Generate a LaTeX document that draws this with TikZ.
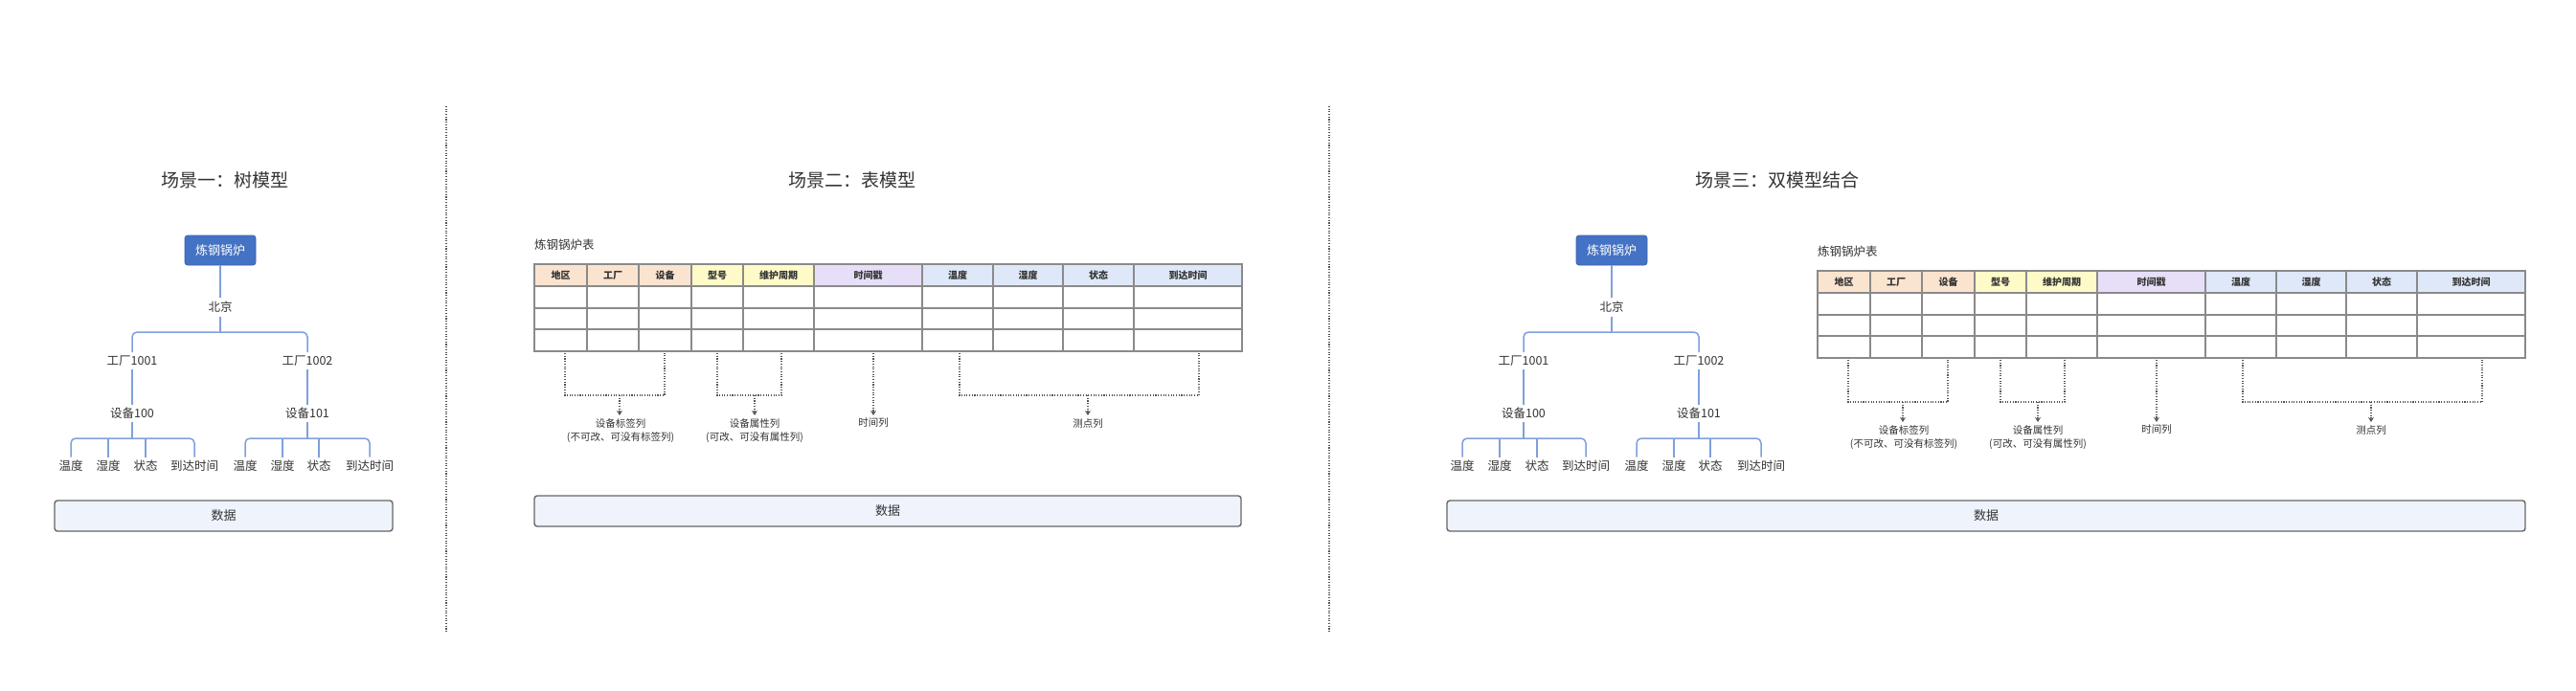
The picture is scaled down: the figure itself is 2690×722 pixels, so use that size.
\documentclass[tikz,border=0pt]{standalone}
\usepackage{fontspec}
\setmainfont{Noto Sans CJK SC}
\usetikzlibrary{arrows.meta}
\definecolor{txt}{HTML}{333333}
\definecolor{rootfill}{HTML}{4472C4}
\definecolor{rootdraw}{HTML}{3A62AC}
\definecolor{treeline}{HTML}{7FA0DC}
\definecolor{datafill}{HTML}{EEF3FC}
\definecolor{datadraw}{HTML}{666666}
\definecolor{gridc}{HTML}{8A8A8A}
\definecolor{hpeach}{HTML}{FBE4CF}
\definecolor{hyellow}{HTML}{FFFBC9}
\definecolor{hlav}{HTML}{E7DEF8}
\definecolor{hblue}{HTML}{DEE8F8}
\definecolor{dotc}{HTML}{555555}

\newcommand\treepic[1]{%
  \coordinate (#1y1) at (0,347);
  \coordinate (#1y2) at (0,458);
  \node[rootbox] (#1root) at (230,261.5) {炼钢锅炉};
  \node[tn] (#1bj) at (230,321) {北京};
  \node[tn] (#1f1) at (138,377) {工厂1001};
  \node[tn] (#1f2) at (321,377) {工厂1002};
  \node[tn] (#1d1) at (138,432) {设备100};
  \node[tn] (#1d2) at (321,432) {设备101};
  \foreach \x/\t [count=\i] in {74/温度,113/湿度,152/状态,203/到达时间,256/温度,295/湿度,333/状态,386/到达时间}
    \node[tn] (#1l\i) at (\x,487) {\t};
  \draw[tl] (#1root.south) -- (#1bj.north);
  \draw[tl] (#1bj.south) -- (#1bj.south |- #1y1);
  \draw[tl,rounded corners=5pt] (#1f1.north) -- (#1f1.north |- #1y1) -- (#1f2.north |- #1y1) -- (#1f2.north);
  \draw[tl] (#1f1.south) -- (#1d1.north);
  \draw[tl] (#1f2.south) -- (#1d2.north);
  \draw[tl] (#1d1.south) -- (#1d1.south |- #1y2);
  \draw[tl] (#1d2.south) -- (#1d2.south |- #1y2);
  \draw[tl,rounded corners=5pt] (#1l1.north) -- (#1l1.north |- #1y2) -- (#1l4.north |- #1y2) -- (#1l4.north);
  \draw[tl,rounded corners=5pt] (#1l5.north) -- (#1l5.north |- #1y2) -- (#1l8.north |- #1y2) -- (#1l8.north);
  \foreach \i in {2,3,6,7} \draw[tl] (#1l\i.north) -- (#1l\i.north |- #1y2);
}

\newcommand\tablepic[1]{%
  \node[ttitle,anchor=west] (#1title) at (558,256) {炼钢锅炉表};
  \fill[hpeach] (558,276) rectangle (722,299);
  \fill[hyellow] (722,276) rectangle (850,299);
  \fill[hlav] (850,276) rectangle (963,299);
  \fill[hblue] (963,276) rectangle (1297,299);
  \foreach \y in {299,322,344} \draw[grid] (558,\y) -- (1297,\y);
  \foreach \x in {613,667,722,776,850,963,1037,1110,1184} \draw[grid] (\x,276) -- (\x,367);
  \draw[grid] (558,276) rectangle (1297,367);
  \foreach \a/\b/\t [count=\i] in {558/613/地区,613/667/工厂,667/722/设备,722/776/型号,776/850/维护周期,850/963/时间戳,963/1037/温度,1037/1110/湿度,1110/1184/状态,1184/1297/到达时间}
    \node[hdr] (#1h\i) at ({(\a+\b)/2},287.5) {\t};
  % bracket 1
  \coordinate (#1b1a) at (590,369);
  \coordinate (#1b1b) at (694,369);
  \coordinate (#1b1m) at (647,413);
  \draw[dotl] (#1b1a) -- (#1b1a |- #1b1m) -- (#1b1b |- #1b1m) -- (#1b1b);
  \node[lab,anchor=north] (#1lab1) at (648,434) {设备标签列\\(不可改、可没有标签列)};
  \draw[dotl,-{Stealth[length=5pt,width=6pt]}] (#1b1m) -- (#1b1m |- #1lab1.north);
  % bracket 2
  \coordinate (#1b2a) at (749,369);
  \coordinate (#1b2b) at (816,369);
  \coordinate (#1b2m) at (788,413);
  \draw[dotl] (#1b2a) -- (#1b2a |- #1b2m) -- (#1b2b |- #1b2m) -- (#1b2b);
  \node[lab,anchor=north] (#1lab2) at (788,434) {设备属性列\\(可改、可没有属性列)};
  \draw[dotl,-{Stealth[length=5pt,width=6pt]}] (#1b2m) -- (#1b2m |- #1lab2.north);
  % time column
  \coordinate (#1b3m) at (912,369);
  \node[lab,anchor=north] (#1lab3) at (912,434) {时间列};
  \draw[dotl,-{Stealth[length=5pt,width=6pt]}] (#1b3m) -- (#1lab3.north);
  % bracket 4
  \coordinate (#1b4a) at (1002,369);
  \coordinate (#1b4b) at (1252,369);
  \coordinate (#1b4m) at (1136,413);
  \draw[dotl] (#1b4a) -- (#1b4a |- #1b4m) -- (#1b4b |- #1b4m) -- (#1b4b);
  \node[lab,anchor=north] (#1lab4) at (1136,434) {测点列};
  \draw[dotl,-{Stealth[length=5pt,width=6pt]}] (#1b4m) -- (#1lab4.north);
}

\begin{document}
\begin{tikzpicture}[x=1pt,y=-1pt,
  title/.style={font=\fontsize{19}{22}\selectfont, text=txt, inner sep=2pt},
  ttitle/.style={font=\fontsize{12.5}{15}\selectfont, text=txt, inner sep=0pt},
  rootbox/.style={fill=rootfill, draw=rootdraw, line width=0.8pt, rounded corners=3pt, text=white,
    minimum width=74pt, minimum height=31pt, inner sep=0pt, font=\fontsize{13}{15}\selectfont},
  tn/.style={font=\fontsize{12.5}{15}\selectfont, text=txt, inner sep=3.5pt},
  tl/.style={draw=treeline, line width=1.5pt},
  databox/.style={fill=datafill, draw=datadraw, line width=1.4pt, rounded corners=3pt, text=txt,
    minimum height=32pt, inner sep=0pt, font=\fontsize{13}{15}\selectfont},
  grid/.style={draw=gridc, line width=1.1pt},
  hdr/.style={font=\fontsize{10}{12}\selectfont\bfseries, text=txt, inner sep=0pt},
  lab/.style={font=\fontsize{10.5}{14}\selectfont, text=txt, align=center, inner sep=3pt},
  dotl/.style={draw=dotc, line width=1.1pt, dash pattern=on 1.1pt off 1.6pt},
  sepl/.style={draw=dotc, line width=1.2pt, dash pattern=on 1.1pt off 1.6pt}
]
\fill[white] (0,0) rectangle (2690,722);
\useasboundingbox (0,0) rectangle (2690,722);

% separators
\coordinate (s1t) at (466,111);
\coordinate (s1b) at (466,660);
\coordinate (s2t) at (1388,111);
\coordinate (s2b) at (1388,660);
\draw[sepl] (s1t) -- (s1b);
\draw[sepl] (s2t) -- (s2b);

% titles
\node[title] (t1) at (235,188) {场景一：树模型};
\node[title] (t2) at (890,188) {场景二：表模型};
\node[title] (t3) at (1856,188) {场景三：双模型结合};

% scene 1
\begin{scope}
  \treepic{A}
\end{scope}
\node[databox, minimum width=353pt] (Adata) at (233.5,539) {数据};

% scene 2
\begin{scope}
  \tablepic{B}
\end{scope}
\node[databox, minimum width=738pt] (Bdata) at (927,534) {数据};

% scene 3
\begin{scope}[shift={(1453,0)}]
  \treepic{C}
\end{scope}
\begin{scope}[shift={(1340,7)}]
  \tablepic{D}
\end{scope}
\node[databox, minimum width=1126pt] (Cdata) at (2074,539) {数据};
\end{tikzpicture}
\end{document}
